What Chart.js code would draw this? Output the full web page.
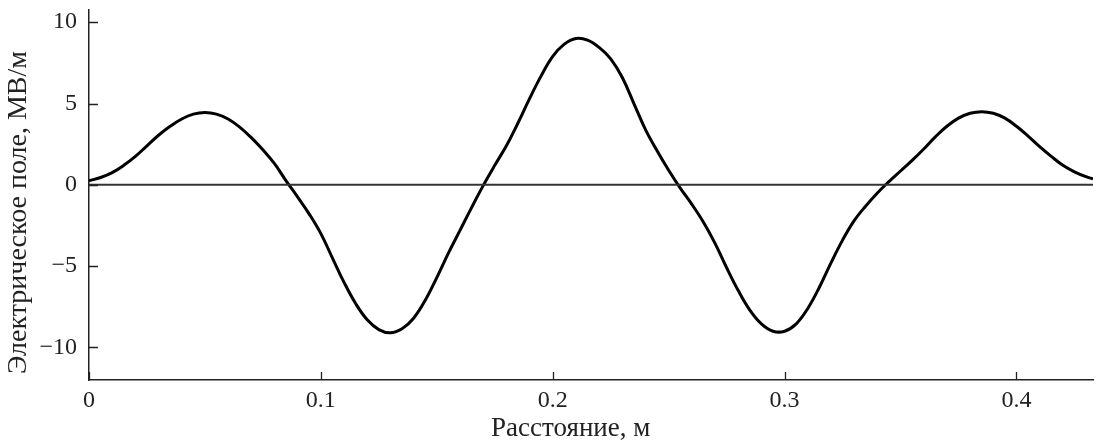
<!DOCTYPE html>
<html>
<head>
<meta charset="utf-8">
<script src="https://cdn.jsdelivr.net/npm/chart.js@4"></script>
<style>
  html, body { margin: 0; padding: 0; background: #fff; }
  #wrap { width: 1096px; height: 445px; }
</style>
</head>
<body>
<div id="wrap"><canvas id="fieldChart"></canvas></div>
<script>
// distance, m
var distance = [0, 0.005, 0.01, 0.015, 0.02, 0.025, 0.03, 0.035, 0.04, 0.045,
  0.05, 0.055, 0.06, 0.065, 0.07, 0.075, 0.08, 0.085, 0.09, 0.095,
  0.1, 0.105, 0.11, 0.115, 0.12, 0.125, 0.13, 0.135, 0.14, 0.145,
  0.15, 0.155, 0.16, 0.165, 0.17, 0.175, 0.18, 0.185, 0.19, 0.195,
  0.2, 0.205, 0.21, 0.215, 0.22, 0.225, 0.23, 0.235, 0.24, 0.245,
  0.25, 0.255, 0.26, 0.265, 0.27, 0.275, 0.28, 0.285, 0.29, 0.295,
  0.3, 0.305, 0.31, 0.315, 0.32, 0.325, 0.33, 0.335, 0.34, 0.345,
  0.35, 0.355, 0.36, 0.365, 0.37, 0.375, 0.38, 0.385, 0.39, 0.395,
  0.4, 0.405, 0.41, 0.415, 0.42, 0.425, 0.43, 0.433];
// electric field, MV/m
var field = [0.25, 0.45, 0.75, 1.2, 1.75, 2.4, 3.05, 3.6, 4.05, 4.35,
  4.45, 4.35, 4.05, 3.55, 2.9, 2.15, 1.3, 0.25, -0.75, -1.8,
  -3.0, -4.5, -6.0, -7.3, -8.3, -8.9, -9.1, -8.85, -8.2, -7.1,
  -5.7, -4.2, -2.8, -1.4, -0.05, 1.2, 2.4, 3.8, 5.3, 6.7,
  7.9, 8.65, 9.0, 8.9, 8.45, 7.75, 6.6, 5.0, 3.4, 2.1,
  0.9, -0.2, -1.2, -2.3, -3.6, -5.1, -6.5, -7.7, -8.55, -9.0,
  -9.0, -8.55, -7.6, -6.3, -4.8, -3.4, -2.2, -1.3, -0.5, 0.2,
  0.85, 1.5, 2.2, 2.95, 3.6, 4.1, 4.4, 4.5, 4.4, 4.1,
  3.6, 3.0, 2.35, 1.75, 1.2, 0.8, 0.5, 0.37];

var xTicks = [0, 0.1, 0.2, 0.3, 0.4];
var xTickLabels = ['0', '0.1', '0.2', '0.3', '0.4'];
var yTicks = [-10, -5, 0, 5, 10];
var yTickLabels = ['\u221210', '\u22125', '0', '5', '10'];

var fieldPoints = distance.map(function (d, i) { return { x: d, y: field[i] }; });
var zeroLine = [{ x: 0, y: 0 }, { x: distance[distance.length - 1], y: 0 }];

var serif = "'Liberation Serif', 'Times New Roman', Times, serif";
var ink = '#222';

// ticks pointing into the plot area
var innerTicks = {
  id: 'innerTicks',
  afterDraw: function (chart) {
    var c = chart.ctx, a = chart.chartArea;
    var xs = chart.scales.x, ys = chart.scales.y;
    c.save();
    c.strokeStyle = ink;
    c.lineWidth = 1.3;
    c.beginPath();
    xTicks.forEach(function (v) {
      var px = Math.round(xs.getPixelForValue(v)) + 0.5;
      c.moveTo(px, a.bottom);
      c.lineTo(px, a.bottom - 8);
    });
    yTicks.forEach(function (v) {
      var py = Math.round(ys.getPixelForValue(v)) + 0.5;
      c.moveTo(a.left, py);
      c.lineTo(a.left + 9, py);
    });
    c.stroke();
    c.restore();
  }
};

new Chart(document.getElementById('fieldChart').getContext('2d'), {
  type: 'line',
  data: {
    datasets: [{
      data: zeroLine,
      borderColor: '#333',
      borderWidth: 2,
      pointRadius: 0,
      tension: 0
    }, {
      data: fieldPoints,
      borderColor: '#000',
      borderWidth: 3,
      pointRadius: 0,
      tension: 0.4
    }]
  },
  options: {
    responsive: true,
    maintainAspectRatio: false,
    animation: false,
    layout: { padding: { top: 10, right: 3, left: 0, bottom: 0 } },
    plugins: { legend: { display: false }, tooltip: { enabled: false } },
    scales: {
      x: {
        type: 'linear',
        min: 0,
        max: 0.433,
        afterBuildTicks: function (s) { s.ticks = xTicks.map(function (v) { return { value: v }; }); },
        afterFit: function (s) { s.height = 65; s.paddingLeft = 0; s.paddingRight = 0; },
        grid: { display: false, drawTicks: false },
        border: { display: true, color: ink, width: 1.5 },
        ticks: {
          padding: 6,
          color: ink,
          font: { family: serif, size: 24 },
          maxRotation: 0,
          callback: function (v) { var i = xTicks.indexOf(v); return i >= 0 ? xTickLabels[i] : ''; }
        },
        title: {
          display: true,
          // trailing spaces nudge the centred title left, as in the original
          text: 'Расстояние, м      ',
          color: ink,
          font: { family: serif, size: 27 },
          padding: { top: 0, bottom: 0 }
        }
      },
      y: {
        min: -12,
        max: 10.75,
        afterBuildTicks: function (s) { s.ticks = yTicks.map(function (v) { return { value: v }; }); },
        afterFit: function (s) { s.width = 89; s.paddingTop = 0; s.paddingBottom = 0; },
        grid: { display: false, drawTicks: false },
        border: { display: true, color: ink, width: 1.5 },
        ticks: {
          padding: 12,
          color: ink,
          font: { family: serif, size: 24 },
          callback: function (v) { var i = yTicks.indexOf(v); return i >= 0 ? yTickLabels[i] : ''; }
        },
        title: {
          display: true,
          text: 'Электрическое поле, МВ/м     ',
          color: ink,
          font: { family: serif, size: 28 },
          padding: { top: 2, bottom: 0 }
        }
      }
    }
  },
  plugins: [innerTicks]
});
</script>
</body>
</html>
